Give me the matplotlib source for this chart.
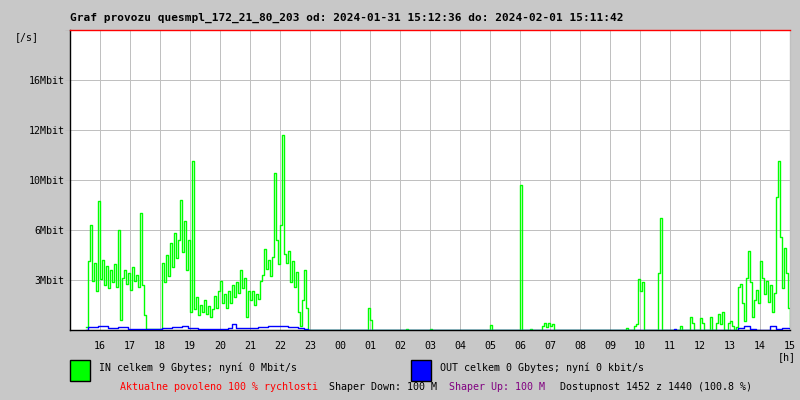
import matplotlib
matplotlib.use("Agg")
import matplotlib.pyplot as plt
import numpy as np

# minutes after 15:00 on 2024-01-31, values in Mbit/s
in_block1_start = 32
in_block1_step = 4
in_block1 = [
    0.2, 4.6, 7.0, 3.3, 4.5, 2.6, 8.6, 3.4, 4.7, 3.0,
    4.3, 2.8, 4.0, 3.2, 4.4, 2.9, 6.7, 0.7, 3.5, 4.0,
    3.1, 3.8, 2.7, 4.2, 3.3, 3.7, 2.9, 7.8, 3.0, 1.0,
    0.1, 0.05, 0.05, 0.05, 0.05, 0.05, 0.05, 0.1, 4.5, 3.2,
    5.0, 3.6, 5.8, 4.2, 6.5, 4.8, 6.0, 8.7, 5.2, 7.3,
    4.0, 6.0, 1.2, 11.3, 1.4, 2.2, 1.0, 1.7, 1.2, 2.0,
    1.1, 1.6, 0.9, 1.4, 2.3, 1.5, 2.6, 3.3, 1.8, 2.4,
    1.5, 2.6, 1.8, 3.0, 2.2, 3.2, 2.5, 4.0, 2.8, 3.5,
    0.9, 2.6, 2.0, 2.6, 1.7, 2.4, 2.1, 3.3, 3.7, 5.4,
    4.1, 4.7, 3.6, 4.9, 10.5, 6.0, 4.4, 7.0, 13.0, 5.1,
    4.5, 5.3, 3.2, 4.6, 2.9, 3.9, 1.2, 0.3, 2.0, 4.0,
    1.5, 0.0,
]

in_sparse_t = [592, 596, 600, 604, 672, 676, 720, 724, 836, 840, 844,
               896, 900, 904, 920, 924, 944, 948, 952, 956, 960, 964, 968,
               1112, 1116, 1128, 1132, 1136, 1140, 1144, 1148,
               1172, 1176, 1180, 1184, 1220, 1224, 1240, 1244, 1248,
               1260, 1264, 1268, 1280, 1284, 1292, 1296, 1300, 1304, 1308,
               1316, 1320, 1324, 1328]
in_sparse_v = [0.0, 1.5, 0.7, 0.0, 0.1, 0.0, 0.1, 0.0, 0.0, 0.35, 0.0,
               0.0, 9.7, 0.0, 0.1, 0.0, 0.3, 0.5, 0.2, 0.5, 0.3, 0.4, 0.0,
               0.15, 0.0, 0.3, 0.4, 3.4, 2.6, 3.2, 0.0,
               0.0, 3.8, 7.5, 0.0, 0.3, 0.0, 0.9, 0.5, 0.0,
               0.8, 0.5, 0.0, 0.9, 0.0, 0.5, 1.1, 0.4, 1.2, 0.0,
               0.5, 0.6, 0.3, 0.0]

in_block2_start = 1332
in_block2_step = 4
in_block2 = [
    0.2, 2.9, 3.1, 1.8, 0.6, 3.5, 5.3, 3.2, 0.9, 2.0,
    2.7, 1.8, 4.6, 3.5, 2.4, 3.3, 1.9, 3.0, 1.2, 2.5,
    8.9, 11.3, 6.2, 2.8, 5.5, 3.8, 1.5, 0.3,
]

out_t = [32, 36, 56, 76, 96, 116, 136, 156, 176, 184, 204, 224, 236, 256,
         276, 296, 316, 324, 332, 356, 376, 396, 416, 436, 456, 468, 476,
         1208, 1212, 1336, 1348, 1360, 1372, 1400, 1412, 1424, 1440]
out_v = [0.0, 0.2, 0.25, 0.15, 0.2, 0.1, 0.05, 0.1, 0.05, 0.15, 0.2, 0.3,
         0.15, 0.1, 0.05, 0.1, 0.15, 0.4, 0.15, 0.15, 0.2, 0.25, 0.3, 0.2,
         0.15, 0.05, 0.0, 0.1, 0.0, 0.15, 0.3, 0.1, 0.0, 0.25, 0.1, 0.15, 0.1]

hour_labels = ["16", "17", "18", "19", "20", "21", "22", "23", "00", "01",
               "02", "03", "04", "05", "06", "07", "08", "09", "10", "11",
               "12", "13", "14", "15"]
y_labels = ["3Mbit", "6Mbit", "10Mbit", "12Mbit", "16Mbit"]

title = "Graf provozu quesmpl_172_21_80_203 od: 2024-01-31 15:12:36 do: 2024-02-01 15:11:42"
in_legend = "IN celkem 9 Gbytes; nyní 0 Mbit/s"
out_legend = "OUT celkem 0 Gbytes; nyní 0 kbit/s"

BG = "#c8c8c8"
GRID = "#c0c0c0"
FONT = "DejaVu Sans Mono"
W, H = 800, 400
ONE_PX = 0.72


def px(x, y):
    return x / W, 1 - y / H


def build_in_series():
    t1 = in_block1_start + in_block1_step * np.arange(len(in_block1))
    t2 = in_block2_start + in_block2_step * np.arange(len(in_block2))
    t = np.concatenate([t1, np.array(in_sparse_t), t2])
    v = np.concatenate([in_block1, in_sparse_v, in_block2])
    order = np.argsort(t, kind="stable")
    return t[order], v[order]


fig = plt.figure(figsize=(8, 4), dpi=100, facecolor=BG)
ax = fig.add_axes([70 / W, 70 / H, 720 / W, 300 / H])
ax.set_facecolor("white")

t_in, v_in = build_in_series()
ax.plot(t_in, v_in, color="#00ff00", lw=1.0, drawstyle="steps-post", zorder=3)
ax.plot(out_t, out_v, color="#0000ff", lw=1.0, drawstyle="steps-post", zorder=4)

ax.set_xlim(0, 1440)
ax.set_ylim(0, 20)
ax.set_xticks(np.arange(60, 1441, 60))
ax.set_xticklabels(hour_labels, fontfamily=FONT, fontsize=7.2)
ax.set_yticks([10 / 3 * k for k in range(1, 7)])
ax.set_yticklabels(y_labels + [""], fontfamily=FONT, fontsize=7.2)
ax.grid(True, color=GRID, lw=ONE_PX, zorder=1, antialiased=False)
ax.set_axisbelow(True)
ax.tick_params(axis="x", length=0, pad=8)
ax.tick_params(axis="y", length=3.6, color=GRID, width=ONE_PX, pad=0.5)

for side in ax.spines:
    ax.spines[side].set_linewidth(1.0)
ax.spines["left"].set_color("black")
ax.spines["bottom"].set_color("black")
ax.spines["top"].set_color("red")
ax.spines["right"].set_color(GRID)

fig.text(*px(70, 18), title, fontfamily=FONT, fontweight="bold", fontsize=8,
         ha="left", va="center")
fig.text(*px(15, 37), "[/s]", fontfamily=FONT, fontsize=7.2, ha="left", va="center")
fig.text(*px(778, 357), "[h]", fontfamily=FONT, fontsize=7.2, ha="left", va="center")

for x0, color, label in [(70, "#00ff00", in_legend), (411, "#0000ff", out_legend)]:
    fig.patches.append(plt.Rectangle(px(x0, 381), 20 / W, 21 / H, transform=fig.transFigure,
                                     facecolor=color, edgecolor="black", lw=1.0))
    fig.text(*px(x0 + 29, 368), label, fontfamily=FONT, fontsize=7.2,
             ha="left", va="center")

bottom_line = [
    (120, "Aktualne povoleno 100 % rychlosti", "red"),
    (329, "Shaper Down: 100 M", "black"),
    (449, "Shaper Up: 100 M", "#800080"),
    (560, "Dostupnost 1452 z 1440 (100.8 %)", "black"),
]
for x0, text, color in bottom_line:
    fig.text(*px(x0, 387), text, fontfamily=FONT, fontsize=7.2, color=color,
             ha="left", va="center")

fig.savefig("out.png", dpi=100, facecolor=BG)
